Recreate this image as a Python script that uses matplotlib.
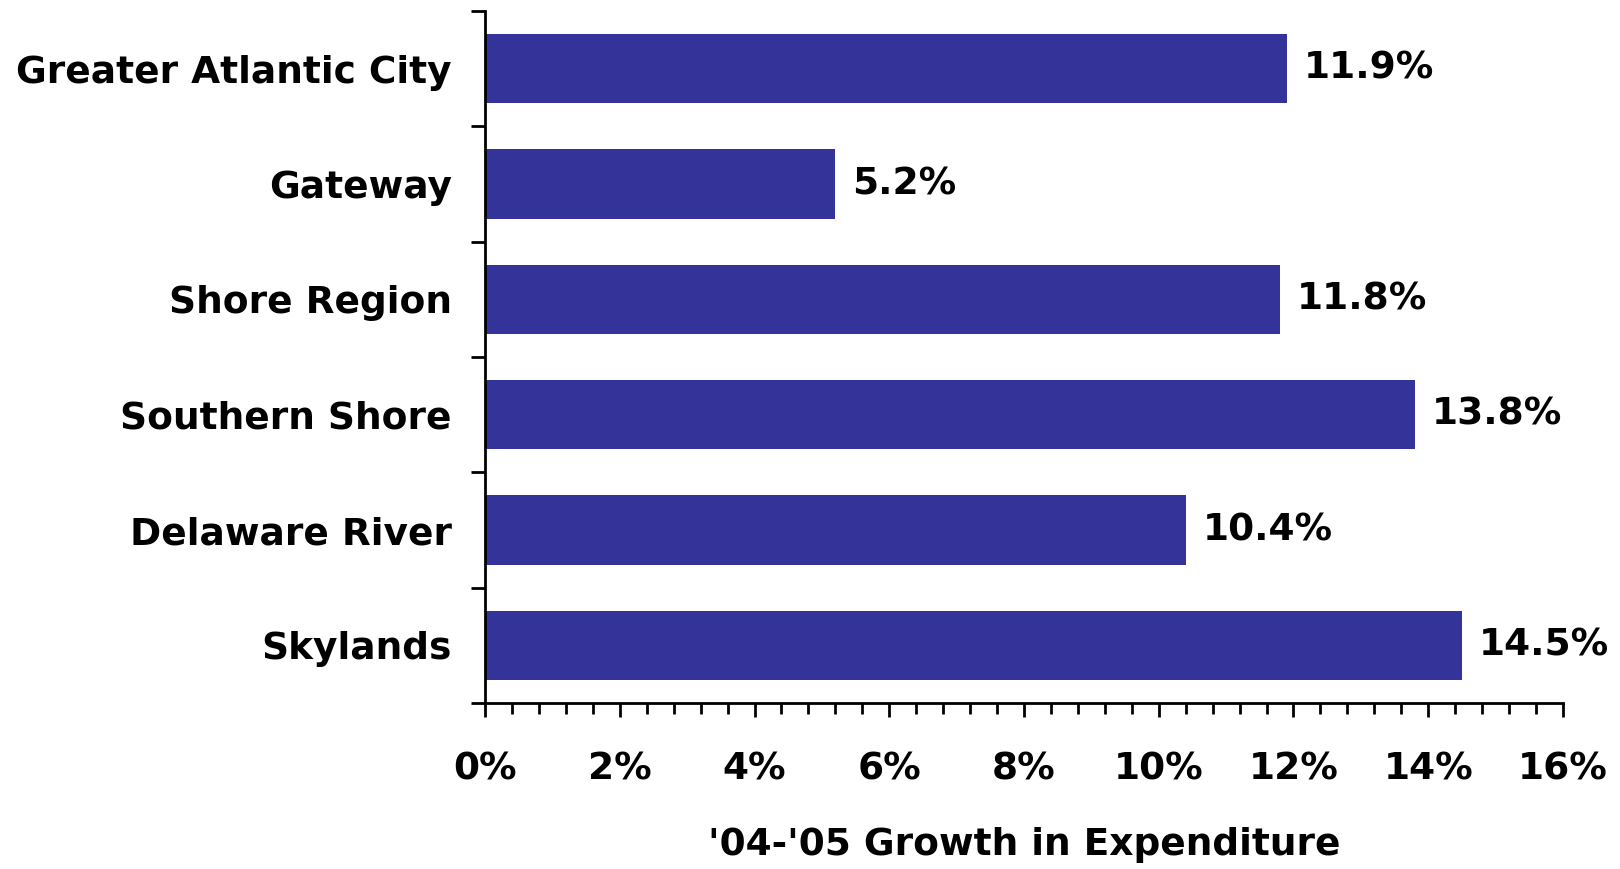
import matplotlib
matplotlib.use("Agg")
import matplotlib.pyplot as plt
from matplotlib.ticker import FuncFormatter, MultipleLocator, FixedLocator

REGIONS = [
    "Greater Atlantic City",
    "Gateway",
    "Shore Region",
    "Southern Shore",
    "Delaware River",
    "Skylands",
]
GROWTH = [11.9, 5.2, 11.8, 13.8, 10.4, 14.5]
X_TICKS = [0, 2, 4, 6, 8, 10, 12, 14, 16]

BAR_COLOR = "#333399"

plt.rcParams["font.family"] = ["DejaVu Sans"]
plt.rcParams["font.weight"] = "bold"

fig = plt.figure(figsize=(16.2, 8.69), dpi=100)
ax = fig.add_axes([0.2994, 0.191, 0.6654, 0.7963])

positions = list(range(len(REGIONS)))
ax.barh(positions, GROWTH, height=0.6, color=BAR_COLOR, zorder=2)

for pos, value in zip(positions, GROWTH):
    ax.annotate(f"{value:.1f}%", (value, pos), xytext=(12, 0),
                textcoords="offset points", va="center", ha="left",
                fontsize=27, fontweight="bold")

ax.set_xlim(0, 16)
ax.set_ylim(len(REGIONS) - 0.5, -0.5)

ax.xaxis.set_major_locator(FixedLocator(X_TICKS))
ax.xaxis.set_minor_locator(MultipleLocator(0.4))
ax.xaxis.set_major_formatter(FuncFormatter(lambda v, _: f"{v:.0f}%"))

ax.set_yticks(positions)
ax.set_yticklabels(REGIONS)
ax.yaxis.set_minor_locator(FixedLocator([p - 0.5 for p in positions] + [len(REGIONS) - 0.5]))

for spine in ("top", "right"):
    ax.spines[spine].set_visible(False)
for spine in ("left", "bottom"):
    ax.spines[spine].set_linewidth(2)

ax.tick_params(axis="x", which="major", direction="out", length=10, width=2,
               labelsize=27, pad=25)
ax.tick_params(axis="x", which="minor", direction="out", length=8, width=2)
ax.tick_params(axis="y", which="major", length=0, labelsize=27, pad=24)
ax.tick_params(axis="y", which="minor", direction="out", length=10, width=2)

for label in ax.get_xticklabels() + ax.get_yticklabels():
    label.set_fontweight("bold")

ax.set_xlabel("'04-'05 Growth in Expenditure", fontsize=27, fontweight="bold", labelpad=28)

fig.savefig("out.png", dpi=100)
